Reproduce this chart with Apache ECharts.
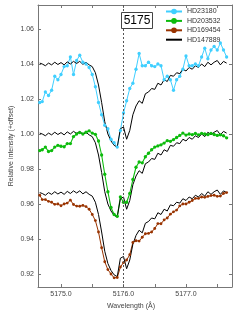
<!DOCTYPE html>
<html>
<head>
<meta charset="utf-8">
<script src="https://cdn.jsdelivr.net/npm/echarts@6/dist/echarts.min.js"></script>
<style>
html,body{margin:0;padding:0;background:#fff;}
#chart{width:249px;height:313px;}
</style>
</head>
<body>
<div id="chart"></div>
<script>
// Wavelength grid (Å)
var wavelength = [5174.66,5174.70,5174.75,5174.80,5174.85,5174.90,5174.95,5175.00,5175.05,5175.10,5175.15,5175.20,5175.25,5175.30,5175.35,5175.40,5175.45,5175.50,5175.55,5175.60,5175.65,5175.70,5175.75,5175.80,5175.85,5175.90,5175.95,5176.00,5176.05,5176.10,5176.15,5176.20,5176.25,5176.30,5176.35,5176.40,5176.45,5176.50,5176.55,5176.60,5176.65,5176.70,5176.75,5176.80,5176.85,5176.90,5176.95,5177.00,5177.05,5177.10,5177.15,5177.20,5177.25,5177.30,5177.35,5177.40,5177.45,5177.50,5177.55,5177.60,5177.65];

var hd23180 = [1.018,1.0185,1.024,1.022,1.025,1.033,1.031,1.034,1.0385,1.039,1.044,1.034,1.042,1.045,1.041,1.040,1.038,1.034,1.027,1.018,1.011,1.005,1.003,0.997,0.995,0.9925,1.002,1.012,1.019,1.026,1.029,1.037,1.046,1.039,1.039,1.041,1.039,1.0385,1.040,1.039,1.031,1.033,1.031,1.025,1.031,1.033,1.037,1.0446,1.039,1.039,1.040,1.039,1.044,1.049,1.043,1.048,1.050,1.048,1.052,1.048,1.044];

var hd203532 = [0.9905,0.991,0.9925,0.990,0.9905,0.9925,0.9935,0.993,0.9927,0.9945,0.9945,0.9985,1.000,1.0008,1.000,1.001,1.0018,1.0005,0.9998,0.996,0.988,0.977,0.967,0.958,0.954,0.953,0.964,0.961,0.961,0.966,0.974,0.981,0.984,0.9835,0.987,0.989,0.991,0.9925,0.9932,0.9938,0.9948,0.9962,0.9958,0.9968,0.998,0.9992,1.0005,0.9994,1.000,0.9996,1.0003,0.9995,1.0004,1.0,0.9996,1.0004,0.9997,0.9992,0.9995,0.999,0.9978];

var hd169454 = [0.965,0.9625,0.9625,0.9615,0.961,0.9598,0.960,0.959,0.960,0.9605,0.9622,0.9597,0.9588,0.9587,0.9592,0.9585,0.957,0.954,0.9505,0.944,0.935,0.927,0.9225,0.920,0.9178,0.918,0.924,0.9265,0.928,0.931,0.938,0.939,0.9388,0.941,0.943,0.9432,0.944,0.946,0.9488,0.9487,0.9509,0.952,0.9542,0.9555,0.9565,0.9589,0.960,0.960,0.961,0.962,0.9632,0.9632,0.964,0.9638,0.9643,0.9648,0.965,0.9644,0.9645,0.966,0.9665];

// HD147889 profile relative to its continuum, plotted three times with offsets
var hd147889 = [0.0005,0,-0.001,0.0005,-0.0005,0.001,-0.0003,0.0008,-0.0005,0.0012,0,0.0015,0.0003,0.0015,-0.0002,0.001,-0.0005,-0.0015,-0.005,-0.012,-0.022,-0.033,-0.040,-0.044,-0.0465,-0.0475,-0.037,-0.036,-0.043,-0.038,-0.029,-0.024,-0.021,-0.0225,-0.017,-0.016,-0.014,-0.0145,-0.011,-0.012,-0.009,-0.010,-0.0065,-0.007,-0.005,-0.0055,-0.003,-0.004,-0.002,-0.003,-0.001,-0.002,0,-0.0015,0.001,-0.0005,0.001,0.002,-0.0005,0.0015,0.0005];
var hd147889Offsets = [1.040, 1.000, 0.966];

var xTicks = [5175.0,5175.5,5176.0,5176.5,5177.0,5177.5];
var xLabels = [5175.0,5176.0,5177.0];
var yTicks = [0.92,0.94,0.96,0.98,1.00,1.02,1.04,1.06];
var lineMarker = 5176.0;
var lineName = '5175';

function pairs(vals){ return wavelength.map(function(w,i){ return [w, vals[i]]; }); }

var xMin = 5174.632, xMax = 5177.736, yMin = 0.91257, yMax = 1.07371;
var axisColor = '#777';
var labelColor = '#444';
var fontFam = '"Liberation Sans", Arial, sans-serif';

var series = [
  {name:'HD23180', type:'line', data:pairs(hd23180), symbol:'circle', symbolSize:3.3,
   lineStyle:{color:'#3fcfff', width:1}, itemStyle:{color:'#3fcfff'},
   markLine:{silent:true, symbol:'none', label:{show:false},
     lineStyle:{type:[2,2], color:'#555', width:1}, data:[{xAxis:lineMarker}]}},
  {name:'HD203532', type:'line', data:pairs(hd203532), symbol:'circle', symbolSize:3.3,
   lineStyle:{color:'#0cbb0c', width:1.1}, itemStyle:{color:'#0cbb0c'}},
  {name:'HD169454', type:'line', data:pairs(hd169454), symbol:'circle', symbolSize:2.8,
   lineStyle:{color:'#993300', width:1}, itemStyle:{color:'#993300'}}
];
hd147889Offsets.forEach(function(off){
  series.push({name:'HD147889', type:'line', symbol:'none',
    data: wavelength.map(function(w,i){ return [w, +(off + hd147889[i]).toFixed(5)]; }),
    lineStyle:{color:'#000', width:1}, itemStyle:{color:'#000'}});
});

var chart = echarts.init(document.getElementById('chart'), null, {renderer:'canvas'});
chart.setOption({
  animation:false,
  backgroundColor:'#fff',
  grid:{left:38, right:17, top:5, bottom:26},
  legend:{
    orient:'vertical', left:165, top:8, itemWidth:16, itemHeight:7, itemGap:2.4,
    padding:0,
    data:['HD23180','HD203532','HD169454',{name:'HD147889', itemStyle:{opacity:0}}],
    textStyle:{fontSize:7, color:'#333', fontFamily:fontFam}
  },
  xAxis:[{
    type:'value', min:xMin, max:xMax, position:'bottom',
    axisLine:{lineStyle:{color:axisColor}},
    axisTick:{inside:true, length:3, customValues:xTicks, lineStyle:{color:axisColor}},
    axisLabel:{customValues:xLabels, fontSize:7, color:labelColor, margin:4, fontFamily:fontFam,
      formatter:function(v){ return v.toFixed(1); }},
    splitLine:{show:false}
  },{
    type:'value', min:xMin, max:xMax, position:'top',
    axisLine:{lineStyle:{color:axisColor}},
    axisTick:{inside:true, length:3, customValues:xTicks, lineStyle:{color:axisColor}},
    axisLabel:{show:false}, splitLine:{show:false}
  }],
  yAxis:[{
    type:'value', min:yMin, max:yMax, position:'left',
    axisLine:{show:true, lineStyle:{color:axisColor}},
    axisTick:{show:true, inside:true, length:3, customValues:yTicks, lineStyle:{color:axisColor}},
    axisLabel:{customValues:yTicks, fontSize:7, color:labelColor, margin:4, fontFamily:fontFam,
      formatter:function(v){ return v.toFixed(2); }},
    splitLine:{show:false}
  },{
    type:'value', min:yMin, max:yMax, position:'right',
    axisLine:{show:true, lineStyle:{color:axisColor}},
    axisTick:{show:true, inside:true, length:3, customValues:yTicks, lineStyle:{color:axisColor}},
    axisLabel:{show:false}, splitLine:{show:false}
  }],
  series: series,
  graphic:[
    {type:'rect', shape:{x:121.5, y:12.5, width:31, height:16}, z:100,
     style:{fill:'#fff', stroke:'#444', lineWidth:1}},
    {type:'text', x:137, y:20.8, z:101,
     style:{text:lineName, fontSize:12, fill:'#000', align:'center', verticalAlign:'middle', fontFamily:fontFam}},
    {type:'text', x:131, y:306.5, z:101,
     style:{text:'Wavelength (Å)', fontSize:7, fill:'#444', align:'center', verticalAlign:'middle', fontFamily:fontFam}},
    {type:'text', x:11, y:146, rotation:Math.PI/2, z:101,
     style:{text:'Relative intensity (+offset)', fontSize:7, fill:'#444', align:'center', verticalAlign:'middle', fontFamily:fontFam}}
  ]
});
</script>
</body>
</html>
